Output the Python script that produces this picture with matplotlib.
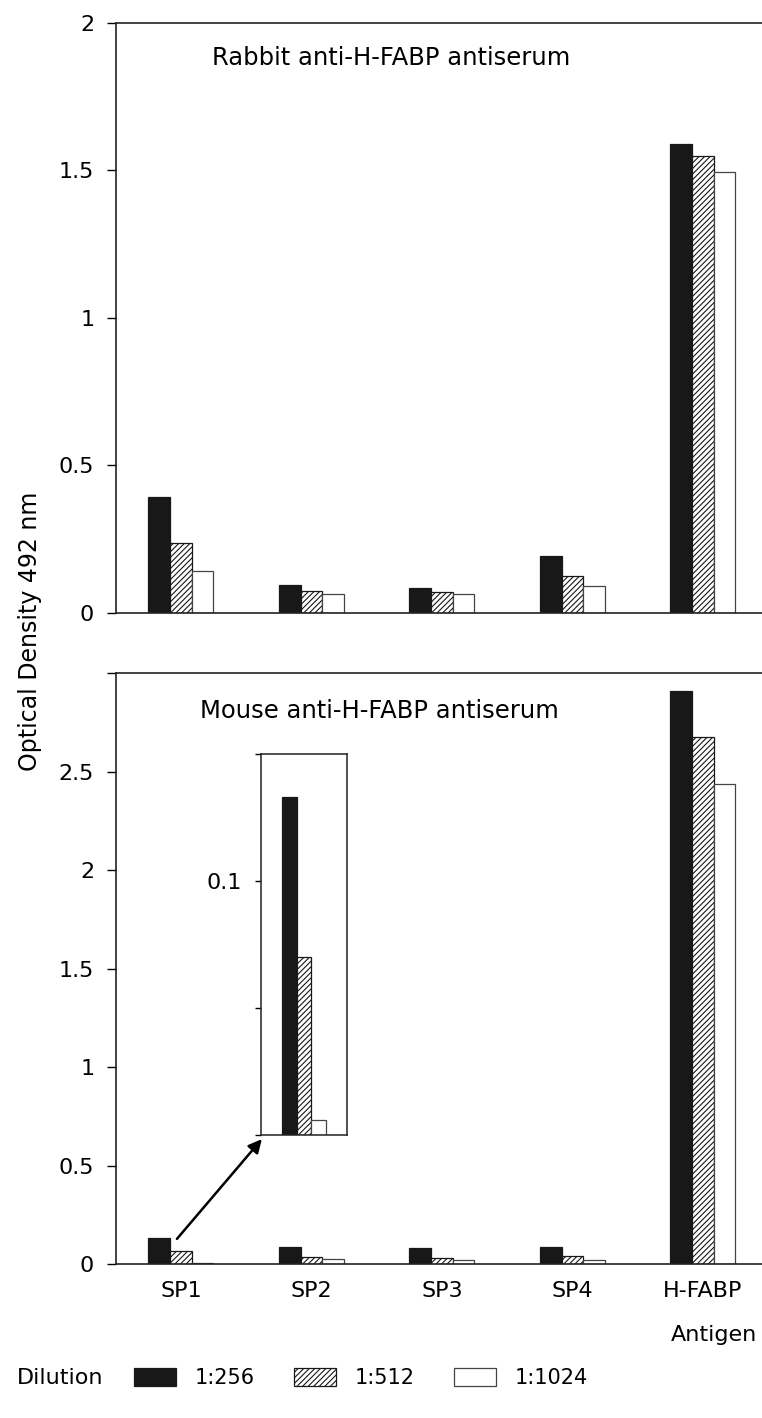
import numpy as np
import matplotlib
matplotlib.use('agg')
import matplotlib.pyplot as plt

antigens = ['SP1', 'SP2', 'SP3', 'SP4', 'H-FABP']
dilutions = ['1:256', '1:512', '1:1024']

# rabbit antiserum, OD 492 nm per dilution
rabbit_256 = [0.393, 0.093, 0.085, 0.192, 1.588]
rabbit_512 = [0.235, 0.075, 0.070, 0.123, 1.549]
rabbit_1024 = [0.142, 0.062, 0.062, 0.090, 1.495]

# mouse antiserum
mouse_256 = [0.133, 0.086, 0.083, 0.086, 2.91]
mouse_512 = [0.070, 0.037, 0.034, 0.041, 2.678]
mouse_1024 = [0.006, 0.025, 0.020, 0.020, 2.439]

plt.rcParams['font.family'] = 'DejaVu Sans'
plt.rcParams['hatch.linewidth'] = 0.8

BLACK = '#181818'
FS = 16
W, H = 762, 1418

fig = plt.figure(figsize=(W / 100, H / 100), dpi=100)


def px_axes(left, top, right, bottom):
    return fig.add_axes([left / W, 1 - bottom / H, (right - left) / W, (bottom - top) / H])


def draw_bars(ax, x, series, width):
    styles = [dict(color=BLACK, edgecolor=BLACK),
              dict(color='white', edgecolor=BLACK, hatch='//////'),
              dict(color='white', edgecolor='#444444')]
    handles = []
    for k, (vals, st) in enumerate(zip(series, styles)):
        h = ax.bar(x + (k - 1) * width, vals, width, linewidth=0.9, **st)
        handles.append(h)
    return handles


def style_axes(ax):
    ax.spines['right'].set_visible(False)
    for s in ['left', 'bottom', 'top']:
        ax.spines[s].set_linewidth(1.2)
        ax.spines[s].set_color('#222222')
    ax.tick_params(axis='y', direction='out', length=6.7, width=1.0, pad=9, labelsize=FS)
    ax.tick_params(axis='x', length=0, labelsize=FS, pad=12)


x = np.arange(len(antigens))
bw = 0.1655

ax1 = px_axes(116, 22.7, 762, 612.7)
handles = draw_bars(ax1, x, [rabbit_256, rabbit_512, rabbit_1024], bw)
ax1.set_xlim(-0.497, 4.453)
ax1.set_ylim(0, 2)
ax1.set_yticks([0, 0.5, 1, 1.5, 2])
ax1.set_yticklabels(['0', '0.5', '1', '1.5', '2'])
ax1.set_xticks([])
style_axes(ax1)
ax1.text(0.1486, 0.940, 'Rabbit anti-H-FABP antiserum', transform=ax1.transAxes,
         fontsize=17.5, va='center', ha='left')

ax2 = px_axes(116, 673.3, 762, 1264.3)
draw_bars(ax2, x, [mouse_256, mouse_512, mouse_1024], bw)
ax2.set_xlim(-0.497, 4.453)
ax2.set_ylim(0, 3)
ax2.set_yticks([0, 0.5, 1, 1.5, 2, 2.5, 3])
ax2.set_yticklabels(['0', '0.5', '1', '1.5', '2', '2.5', ''])
ax2.set_xticks(x)
ax2.set_xticklabels(antigens)
style_axes(ax2)
ax2.text(0.130, 0.937, 'Mouse anti-H-FABP antiserum', transform=ax2.transAxes,
         fontsize=17.5, va='center', ha='left')

# inset: SP1, mouse antiserum
ax3 = px_axes(261, 754, 347, 1135.3)
ix = np.array([0])
draw_bars(ax3, ix, [mouse_256[:1], mouse_512[:1], mouse_1024[:1]], 1.0)
ax3.set_xlim(-2.93, 2.93)
ax3.set_ylim(0, 0.15)
ax3.set_yticks([0, 0.05, 0.1, 0.15])
ax3.set_yticklabels(['', '', '0.1', ''])
ax3.set_xticks([])
for s in ax3.spines.values():
    s.set_linewidth(1.1)
    s.set_color('#222222')
ax3.tick_params(axis='y', direction='out', length=4.5, width=1.0, pad=9, labelsize=FS)

ax2.annotate('', xy=(0.01, -0.01), xycoords=ax3.transAxes,
             xytext=(x[0] - 0.03, 0.129), textcoords='data',
             arrowprops=dict(arrowstyle='-|>', color='black', lw=1.8, mutation_scale=20,
                             shrinkA=0, shrinkB=0))

fig.text(30 / W, 1 - 631 / H, 'Optical Density 492 nm', rotation=90,
         fontsize=17, ha='center', va='center')
fig.text(757 / W, 1 - 1335 / H, 'Antigen', fontsize=FS, ha='right', va='center')

fig.text(17 / W, 1 - 1378 / H, 'Dilution', fontsize=FS, ha='left', va='center')
fig.legend(handles, dilutions, loc='center left', bbox_to_anchor=(134 / W, 1 - 1378 / H),
           ncol=3, frameon=False, fontsize=15, handlelength=2.0, handleheight=0.95,
           handletextpad=0.9, columnspacing=1.9, borderpad=0, borderaxespad=0)

fig.savefig('out.png', dpi=100)
